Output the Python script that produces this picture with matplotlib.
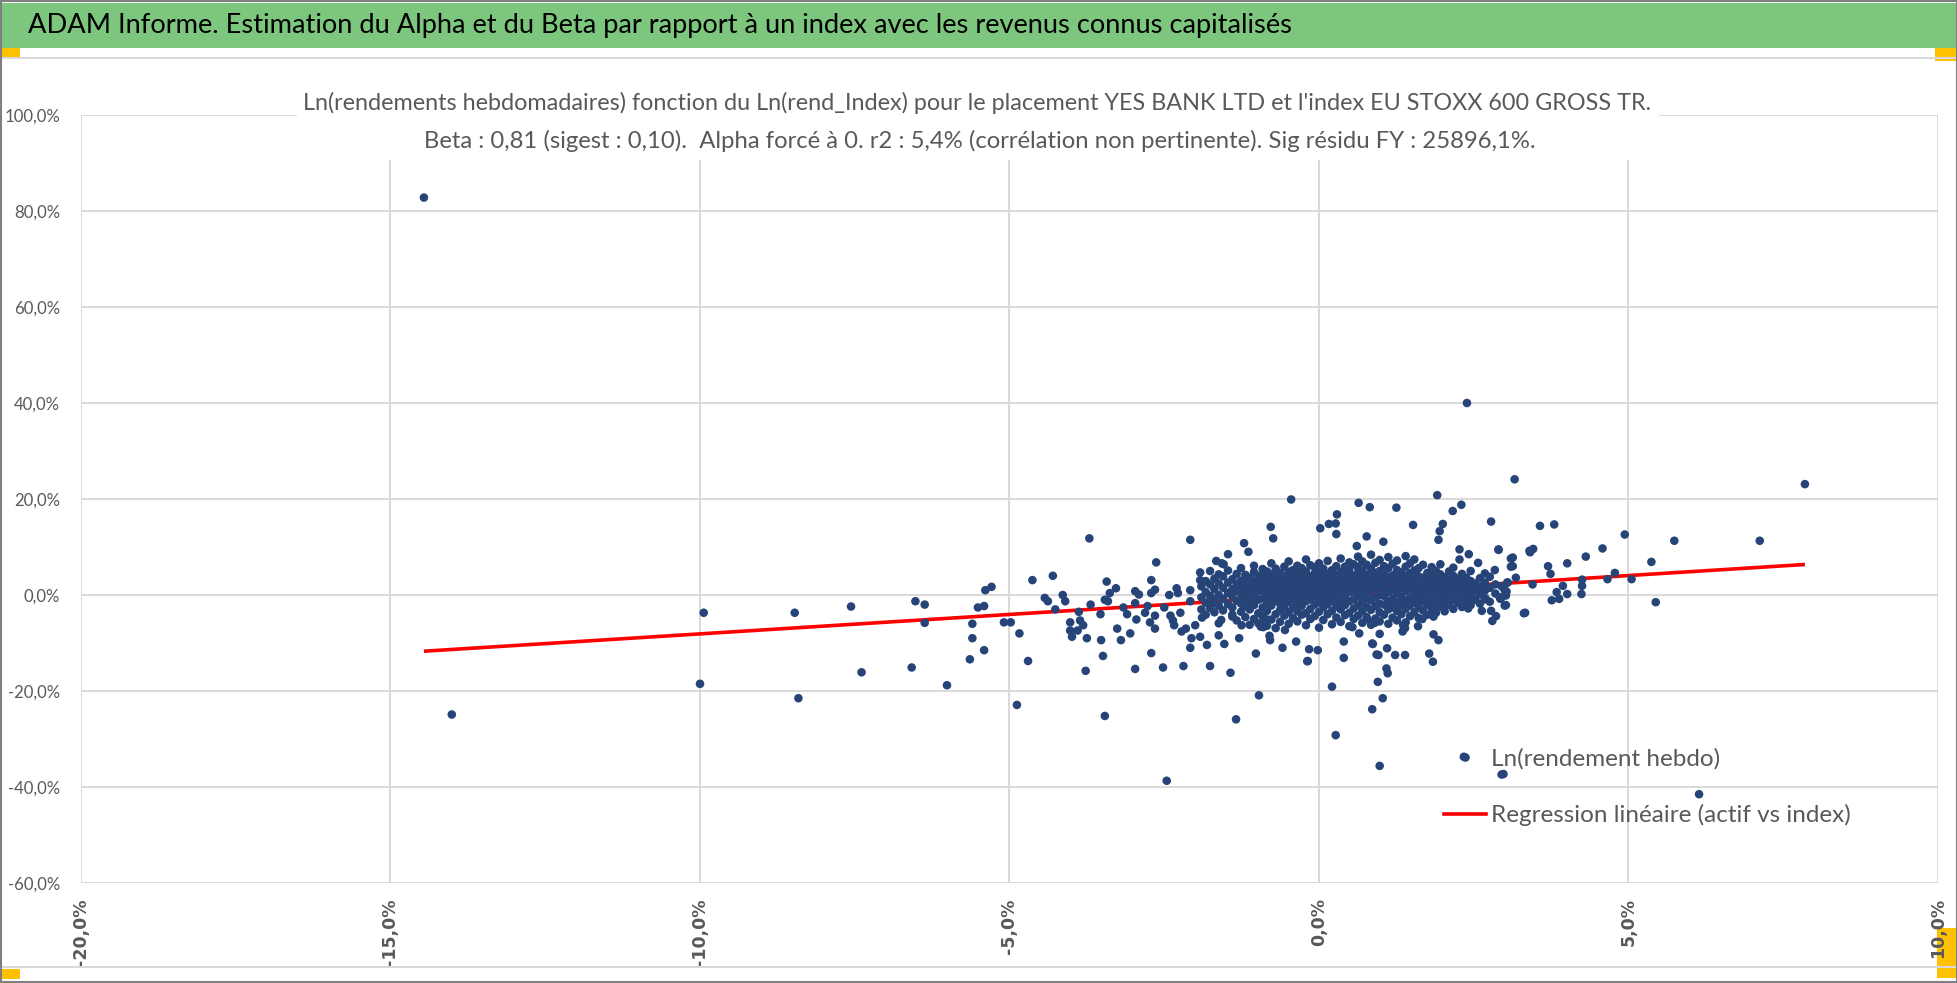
import numpy as np
import matplotlib.pyplot as plt
from matplotlib.patches import Rectangle
from matplotlib.lines import Line2D
from matplotlib.ticker import FuncFormatter, MultipleLocator

###########################################################
# Donnees (en %)
###########################################################

# points isoles (loin du nuage)
far_pts = [(-14.46, 82.8), (-14.01, -24.9), (-9.94, -3.7), (-10.0, -18.5), (-8.47, -3.7),
           (-8.41, -21.5), (-7.56, -2.4), (-7.39, -16.1), (-6.52, -1.3), (-6.37, -2.0),
           (-6.37, -5.8), (-6.58, -15.1), (-6.01, -18.8), (2.39, 40.0), (6.14, -41.5),
           (7.85, 23.1)]

# partie gauche du nuage (-6% a -1.5%)
left_pts = [(-5.64, -13.4), (-5.60, -9.0), (-5.60, -6.0), (-5.51, -2.6), (-5.41, -2.3), (-5.41, -11.5),
            (-5.39, 1.0), (-5.29, 1.7), (-5.09, -5.7), (-4.98, -5.7), (-4.88, -22.9), (-4.84, -8.0),
            (-4.70, -13.75), (-4.63, 3.1), (-4.43, -0.6), (-4.38, -1.3), (-4.30, 4.0), (-4.26, -3.0),
            (-4.14, 0.0), (-4.10, -1.3), (-4.02, -5.7), (-4.02, -7.4), (-3.99, -8.7), (-3.90, -7.4),
            (-3.88, -3.5), (-3.86, -5.3), (-3.81, -6.3), (-3.77, -15.8), (-3.75, -9.0), (-3.71, 11.8),
            (-3.69, -2.0), (-3.53, -4.0), (-3.52, -9.4), (-3.49, -12.7), (-3.46, -25.2), (-3.46, -1.0),
            (-3.43, 2.8), (-3.38, 0.4), (-3.41, -1.3), (-3.28, 1.4), (-3.26, -7.0), (-3.20, -9.4),
            (-3.16, -2.6), (-3.10, -4.0), (-3.05, -8.0), (-2.97, 0.8), (-2.97, -1.7), (-2.95, -5.1),
            (-2.97, -15.4), (-2.91, 0.1), (-2.81, -3.7), (-2.77, -2.3), (-2.71, 3.1), (-2.71, -12.1),
            (-2.71, 0.4), (-2.65, 1.1), (-2.63, 6.8), (-2.65, -4.3), (-2.73, -5.7), (-2.65, -7.0),
            (-2.52, -15.1), (-2.50, -2.6), (-2.46, -38.7), (-2.42, 0.0), (-2.40, -4.3), (-2.36, -5.3),
            (-2.34, -6.3), (-2.30, 1.4), (-2.28, 0.4), (-2.24, -3.7), (-2.22, -7.6), (-2.19, -14.8),
            (-2.15, -7.0), (-2.08, 11.5), (-2.08, 1.0), (-2.08, -1.3), (-2.06, -9.0), (-2.08, -11.0),
            (-2.00, -6.3), (-1.92, 4.7), (-1.92, 3.1), (-1.89, -4.7), (-1.92, -8.7), (-1.81, -10.4),
            (-1.76, -14.8), (-1.74, -2.0), (-1.66, 7.1), (-1.62, -8.4), (-1.62, 4.3), (-1.58, -5.2),
            (-1.54, 6.4), (-1.43, -16.2), (-1.40, -4.5), (-1.34, -25.9), (-1.25, -6.3), (-0.97, -20.9),
            (-0.90, -6.7), (-0.84, -5.1), (-0.80, -8.5)]

# bordure du coeur du nuage (-1.6% a 3.4%)
mid_pts = [(-0.74, 11.8), (0.02, 13.9), (0.16, 14.8), (0.27, 14.9), (0.28, 12.7), (0.77, 12.2),
           (0.61, 10.2), (-1.21, 10.8), (-1.47, 8.5), (-1.14, 9.0), (-1.57, 6.6), (-1.02, -12.2),
           (-1.53, -10.2), (-1.29, -9.0), (-0.59, -11.0), (-0.19, -13.8), (-0.16, -11.3), (-0.02, -11.5),
           (0.40, -13.1), (0.40, -9.7), (0.93, -12.4), (-0.37, -9.7), (-0.79, -9.4), (-0.94, -6.6),
           (-0.55, -7.3), (-0.89, -5.0), (0.77, -5.0), (0.88, -5.6), (0.65, -8.0), (0.54, -6.7),
           (0.86, -10.1), (-0.78, 14.2), (-0.45, 19.9), (0.64, 19.2), (0.82, 18.3), (1.25, 18.2),
           (1.91, 20.8), (2.30, 18.8), (2.16, 17.5), (0.29, 16.8), (0.21, -19.1), (0.27, -29.2),
           (0.86, -23.8), (1.03, -21.5), (0.95, -18.1), (1.11, -16.3), (0.98, -35.6), (2.34, -33.7),
           (2.98, -37.3), (-0.18, -13.75), (1.52, 14.6), (2.00, 14.8), (2.78, 15.3), (1.04, 11.1),
           (1.93, 11.5), (1.95, 13.3), (2.90, 9.5), (3.13, 7.8), (3.13, 6.0), (3.40, 9.2), (2.27, 9.5),
           (2.42, 8.5), (2.57, 6.7), (2.27, 7.4), (2.84, 5.2), (2.68, 4.5), (3.05, 2.6), (3.03, 0.7),
           (2.92, -0.5), (3.02, -2.1), (3.33, -3.7), (2.63, -3.3), (2.78, -3.3), (2.86, -4.4),
           (2.80, -5.4), (2.69, -0.7), (2.41, -2.8), (2.04, -2.3), (1.84, -3.1), (1.85, -4.5),
           (1.67, -5.0), (1.60, -6.5), (1.36, -6.3), (1.39, -6.9), (1.35, -7.6), (0.90, -5.8),
           (0.98, -8.1), (0.87, -10.2), (1.10, -11.1), (1.23, -12.5), (1.39, -12.5), (1.85, -8.2),
           (1.93, -9.4), (1.78, -12.2), (1.84, -13.9), (0.96, -12.5), (1.09, -15.3)]

# partie droite (3% a 8%)
right_pts = [(3.16, 24.1), (3.57, 14.4), (3.80, 14.7), (4.94, 12.6), (5.74, 11.3), (7.12, 11.3),
             (3.41, 8.9), (3.46, 9.6), (2.90, 9.4), (3.10, 7.6), (3.10, 5.9), (3.18, 3.6), (3.70, 6.0),
             (3.74, 4.4), (4.01, 6.6), (4.31, 8.0), (4.58, 9.7), (5.37, 6.9), (4.78, 4.6), (4.66, 3.3),
             (5.05, 3.3), (3.04, 2.6), (3.45, 2.2), (3.94, 1.9), (4.25, 3.2), (4.25, 1.9), (4.24, 0.2),
             (3.84, 0.6), (4.01, 0.2), (3.88, -0.8), (3.76, -1.1), (3.00, 1.0), (3.02, -0.1),
             (2.93, -0.8), (3.00, -2.2), (3.31, -3.8), (5.44, -1.5), (2.95, -37.4)]

# coeur dense : abscisse de chaque colonne et ordonnees des points de la colonne
core_x = [-1.90, -1.83, -1.76, -1.69, -1.62, -1.55, -1.47, -1.40, -1.33, -1.26, -1.19, -1.12, -1.05,
          -0.98, -0.91, -0.84, -0.77, -0.70, -0.63, -0.56, -0.49, -0.42, -0.35, -0.28, -0.21, -0.14,
          -0.07, 0.00, 0.07, 0.14, 0.21, 0.28, 0.35, 0.42, 0.49, 0.56, 0.63, 0.70, 0.77, 0.84, 0.91,
          0.98, 1.05, 1.12, 1.19, 1.26, 1.33, 1.40, 1.47, 1.54, 1.61, 1.68, 1.75, 1.82, 1.89, 1.96,
          2.03, 2.10, 2.17, 2.24, 2.31, 2.38, 2.45, 2.52, 2.60, 2.68, 2.76, 2.85, 2.95]
core_y = [[-3.0, -0.5, 1.8],
          [-1.6, 0.6, 2.9, -4.1],
          [-2.7, -0.2, 2.2, 5.0],
          [-3.6, -1.0, 1.2, 3.4],
          [-2.2, 0.0, 2.4, -5.9],
          [-3.2, -0.8, 1.5, 3.9],
          [-1.9, 0.4, 2.6, 5.1],
          [-4.1, -2.6, -0.3, 1.2, 3.3],
          [-1.2, 0.9, 2.2, 4.4, -5.3],
          [-3.5, -1.8, 0.2, 1.7, 3.0, 5.6],
          [-4.6, -2.4, -0.6, 1.1, 2.8, 4.2],
          [-3.0, -1.4, 0.5, 2.0, 3.6, -6.2],
          [-5.0, -2.1, -0.2, 1.4, 2.9, 4.8, 6.1],
          [-3.8, -1.0, 0.8, 2.4, 4.0, -5.9],
          [-4.4, -2.6, -0.7, 1.0, 2.5, 3.8, 5.4],
          [-3.3, -1.5, 0.3, 1.9, 3.3, 4.9, -6.4],
          [-5.1, -2.2, -0.4, 1.3, 2.7, 4.3, 6.6],
          [-4.0, -1.2, 0.6, 2.2, 3.7, 5.5, -6.9],
          [-5.6, -3.1, -1.8, 0.0, 1.6, 3.1, 4.6],
          [-4.3, -2.5, -0.8, 0.9, 2.4, 3.9, 5.9],
          [-6.0, -3.6, -1.4, 0.3, 1.8, 3.3, 4.8, 7.0],
          [-4.8, -2.7, -0.9, 0.7, 2.2, 3.6, 5.2],
          [-5.5, -3.4, -1.7, -0.2, 1.4, 2.9, 4.4, 6.1],
          [-4.1, -2.3, -0.6, 1.0, 2.5, 4.0, 5.6],
          [-6.3, -3.8, -1.3, 0.4, 1.9, 3.4, 4.9, 7.4],
          [-5.0, -2.9, -0.9, 0.8, 2.3, 3.8, 6.2],
          [-4.4, -2.0, -0.3, 1.3, 2.8, 4.5, 5.8],
          [-6.8, -3.5, -1.5, 0.1, 1.7, 3.2, 4.7, 6.6],
          [-5.2, -2.6, -0.8, 0.9, 2.4, 3.9, 5.5],
          [-4.0, -1.9, -0.2, 1.5, 3.0, 4.4, 7.1],
          [-6.1, -3.3, -1.2, 0.5, 2.0, 3.6, 5.2],
          [-4.7, -2.4, -0.6, 1.1, 2.6, 4.1, 6.0],
          [-5.6, -3.0, -1.6, 0.2, 1.7, 3.3, 4.8, 7.6],
          [-4.2, -2.1, -0.4, 1.3, 2.9, 4.5, 5.9],
          [-6.5, -3.7, -1.3, 0.6, 2.2, 3.7, 5.3, 6.8],
          [-5.0, -2.8, -0.9, 0.9, 2.5, 4.0, 6.4],
          [-4.3, -2.2, -0.3, 1.4, 3.1, 4.7, 5.8, 8.0],
          [-5.8, -3.4, -1.5, 0.3, 2.0, 3.5, 5.1, 7.0],
          [-4.6, -2.5, -0.7, 1.1, 2.7, 4.2, 6.3],
          [-6.2, -3.1, -1.1, 0.7, 2.3, 3.9, 5.5, 8.4],
          [-4.9, -2.3, -0.5, 1.5, 3.0, 4.6, 6.7],
          [-5.5, -3.6, -1.8, 0.0, 1.8, 3.4, 5.0, 7.3],
          [-4.1, -2.0, -0.2, 1.2, 2.8, 4.3, 6.0],
          [-6.0, -3.0, -1.3, 0.6, 2.2, 3.8, 5.6, 7.9],
          [-4.7, -2.6, -0.8, 1.0, 2.6, 4.1, 6.5],
          [-5.3, -3.3, -1.6, 0.3, 1.9, 3.5, 5.2, 7.2],
          [-4.0, -2.1, -0.4, 1.4, 3.0, 4.7],
          [-5.7, -2.9, -1.1, 0.8, 2.4, 4.0, 5.9, 8.1],
          [-4.4, -2.2, -0.6, 1.2, 2.8, 4.5, 6.6],
          [-3.6, -1.6, 0.1, 1.8, 3.4, 5.1, 7.4],
          [-4.8, -2.5, -0.9, 0.6, 2.2, 3.9, 5.6],
          [-3.2, -1.3, 0.4, 2.0, 3.6, 6.3],
          [-4.1, -2.0, -0.3, 1.4, 3.0, 4.6],
          [-2.8, -1.0, 0.8, 2.4, 4.1, 5.8],
          [-3.7, -1.6, 0.2, 1.8, 3.3, 5.0],
          [-2.4, -0.6, 1.1, 2.7, 4.3, 6.4],
          [-3.4, -1.3, 0.5, 2.1, 3.7],
          [-2.0, -0.2, 1.4, 3.0, 4.9],
          [-2.9, -1.0, 0.8, 2.4, 4.0, 5.7],
          [-1.6, 0.2, 1.8, 3.4],
          [-2.5, -0.7, 1.1, 2.7, 4.4],
          [-1.3, 0.5, 2.1, 3.6],
          [-2.1, -0.4, 1.3, 2.9, 5.0],
          [-1.0, 0.8, 2.4],
          [-1.8, 0.1, 1.7, 3.5],
          [0.9, 2.6, -0.9],
          [-1.4, 1.5, 3.8],
          [0.3, 2.2],
          [-0.5, 1.8]]

beta = 0.81  # pente de la regression (alpha force a 0)

titre_bandeau = "ADAM Informe. Estimation du Alpha et du Beta par rapport à un index avec les revenus connus capitalisés"
titre_1 = "Ln(rendements hebdomadaires) fonction du Ln(rend_Index) pour le placement YES BANK LTD et l'index EU STOXX 600 GROSS TR."
titre_2 = "Beta : 0,81 (sigest : 0,10).  Alpha forcé à 0. r2 : 5,4% (corrélation non pertinente). Sig résidu FY : 25896,1%."
leg_1 = "Ln(rendement hebdo)"
leg_2 = "Regression linéaire (actif vs index)"

###########################################################
# Mise en forme
###########################################################

police = ['Lato', 'DejaVu Sans']
gris = '#595959'

W, H = 1958, 983
fig = plt.figure(figsize=(W / 100, H / 100), dpi=100)
fig.patch.set_facecolor('white')


def fx(px):
    return px / W


def fy(py):
    return 1 - py / H


# zone du graphique (en pixels)
x0, x1, y0, y1 = 81, 1938, 115, 883
ax = fig.add_axes([fx(x0), fy(y1), fx(x1 - x0), (y1 - y0) / H])
ax.patch.set_visible(False)

pts = far_pts + left_pts + mid_pts + right_pts
for cx, cys in zip(core_x, core_y):
    for cy in cys:
        pts.append((cx, cy))
xs = np.array([p[0] for p in pts])
ys = np.array([p[1] for p in pts])

# droite de regression sur l'etendue des abscisses
xl = np.array([xs.min(), xs.max()])
ax.plot(xl, beta * xl, color='#FF0000', lw=2.6, zorder=2, solid_capstyle='butt')
ax.scatter(xs, ys, s=38, color='#264478', edgecolors='none', zorder=3)

ax.set_xlim(-20, 10)
ax.set_ylim(-60, 100)
ax.xaxis.set_major_locator(MultipleLocator(5))
ax.yaxis.set_major_locator(MultipleLocator(20))
fmt = FuncFormatter(lambda v, p: ('%.1f%%' % v).replace('.', ','))
ax.xaxis.set_major_formatter(fmt)
ax.yaxis.set_major_formatter(fmt)
ax.grid(True, color='#D9D9D9', lw=1.4)
ax.set_axisbelow(True)
for s in ax.spines.values():
    s.set_visible(False)
ax.tick_params(length=0, colors=gris)
ax.tick_params(axis='y', pad=15, labelsize=15)
ax.tick_params(axis='x', pad=11, labelsize=12.5)
for t in ax.get_yticklabels():
    t.set_fontfamily(police)
for t in ax.get_xticklabels():
    t.set_rotation(90)
    t.set_fontweight('bold')
    t.set_fontfamily('DejaVu Sans')
    t.set_verticalalignment('top')

# bandeau vert
fig.add_artist(Rectangle((fx(2), fy(48)), fx(1954), 45 / H, transform=fig.transFigure,
                         facecolor='#7DC67D', edgecolor='none', zorder=1))
tb = fig.text(fx(28), fy(26), titre_bandeau, fontsize=22, family=police, color='black',
              va='center', ha='left', zorder=5)

# cadre et separations
for ya in [58, 967]:
    fig.add_artist(Line2D([0, 1], [fy(ya), fy(ya)], transform=fig.transFigure, color='#D9D9D9', lw=1.5))
fig.add_artist(Rectangle((0.0005, 0.001), 0.999, 0.998, transform=fig.transFigure,
                         facecolor='none', edgecolor='#7F7F7F', lw=1.5, zorder=6))
# poignees jaunes de selection (sous les etiquettes)
for (px, py, w, h) in [(0, 48, 20, 9), (1935, 48, 23, 13), (0, 969, 20, 10), (1937, 928, 21, 50)]:
    fig.add_artist(Rectangle((fx(px), fy(py + h)), fx(w), h / H, transform=fig.transFigure,
                             facecolor='#FFC000', edgecolor='none', zorder=-1))

# titre du graphique sur fond blanc
fig.add_artist(Rectangle((fx(297), fy(160)), fx(1362), 78 / H, transform=fig.transFigure,
                         facecolor='white', edgecolor='none', zorder=4))
t1 = fig.text(fx(977), fy(103), titre_1, fontsize=17, family=police, color=gris,
              ha='center', va='center', zorder=5)
t2 = fig.text(fx(980), fy(141), titre_2, fontsize=17, family=police, color=gris,
              ha='center', va='center', zorder=5)

# ajustement des tailles de police sur les largeurs mesurees
fig.canvas.draw()
r = fig.canvas.get_renderer()
for txt, cible in [(tb, 1265), (t1, 1344), (t2, 1111)]:
    w = txt.get_window_extent(r).width
    txt.set_fontsize(txt.get_fontsize() * cible / w)

wy = ax.get_yticklabels()[-1].get_window_extent(r).width
ax.tick_params(axis='y', labelsize=15 * 56 / wy)

essai = fig.text(0, 0, leg_1, fontsize=18, family=police)
taille_leg = 18 * 229 / essai.get_window_extent(r).width
essai.remove()

# legende
handles = [Line2D([], [], ls='none', marker='o', ms=6.2, color='#264478', mec='none'),
           Line2D([], [], color='#FF0000', lw=2.6)]
px_f = taille_leg * 100 / 72
lg = fig.legend(handles, [leg_1, leg_2], loc='center left', frameon=False,
                bbox_to_anchor=(fx(1444), fy(787)), bbox_transform=fig.transFigure,
                prop={'family': police, 'size': taille_leg}, labelcolor=gris,
                borderpad=0, borderaxespad=0, handlelength=42 / px_f, handletextpad=5 / px_f,
                labelspacing=1.45)

fig.savefig('out.png', dpi=100, facecolor='white')
